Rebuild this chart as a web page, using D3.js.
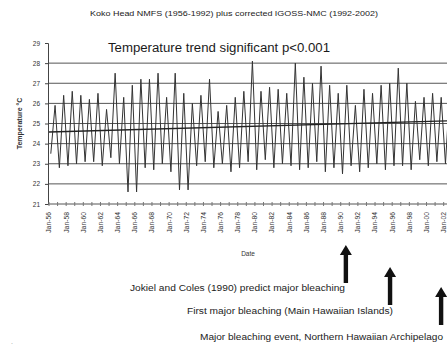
<!DOCTYPE html>
<html>
<head>
<meta charset="utf-8">
<script src="https://cdn.jsdelivr.net/npm/d3@7"></script>
<style>
  html, body { margin: 0; padding: 0; background: #fff; }
  svg { display: block; font-family: "Liberation Sans", Arial, sans-serif; }
</style>
</head>
<body>
<svg id="chart" width="447" height="345"></svg>
<script>
// Koko Head sea surface temperature, seasonal extremes per year (°C)
const years = [1956,1957,1958,1959,1960,1961,1962,1963,1964,1965,1966,1967,1968,1969,1970,1971,1972,1973,1974,1975,1976,1977,1978,1979,1980,1981,1982,1983,1984,1985,1986,1987,1988,1989,1990,1991,1992,1993,1994,1995,1996,1997,1998,1999,2000,2001,2002];
// late-winter minimum (around March)
const winterLow = [23.5,22.8,22.9,23.0,23.1,23.1,22.9,23.3,23.0,21.6,21.6,22.8,22.7,23.0,22.6,21.7,21.7,22.9,23.1,22.8,23.0,22.6,22.8,23.1,22.7,23.2,22.8,23.0,22.9,22.7,22.8,23.1,22.6,22.8,22.5,22.9,22.6,22.8,23.0,22.7,22.9,22.9,22.7,23.2,22.9,23.1,23.0];
// late-summer maximum (around September)
const summerHigh = [25.9,26.4,26.6,26.4,26.2,26.5,25.7,27.5,26.3,26.9,27.2,27.2,27.5,26.3,27.5,26.5,26.0,26.4,27.2,25.6,25.9,26.3,26.6,28.1,26.6,26.8,26.7,26.5,28.0,27.3,27.0,27.85,26.9,26.5,26.9,25.9,26.7,26.5,26.9,27.0,27.75,27.0,26.1,26.3,26.5,26.3,26.6];
const lowMonth = 2;   // March (0-based)
const highMonth = 8;  // September

// linear trend (°C) at the start and end of the record
const trendYears = [1956, 2003];
const trendValues = [24.58, 25.14];

const yTicks = [21,22,23,24,25,26,27,28,29];
const gridValues = [22,23,24,25,26,27,28];
const xLabelYears = d3.range(1956, 2003, 2);
const xTickYears = d3.range(1956, 2004, 1);

const titleText = "Koko Head NMFS (1956-1992) plus corrected IGOSS-NMC (1992-2002)";
const trendNote = "Temperature trend significant p<0.001";

// bleaching events marked below the time axis
const eventDates = [1990.6, 1995.75, 2001.7];
const eventTexts = [
  "Jokiel and Coles (1990) predict major bleaching",
  "First major bleaching (Main Hawaiian Islands)",
  "Major bleaching event, Northern Hawaiian Archipelago"
];

const svg = d3.select("#chart");
const plotLeft = 48, plotTop = 43, plotBottom = 204;
const pxPerYear = 8.58;
const x = d3.scaleLinear().domain([1956, 2003]).range([49, 49 + 47 * pxPerYear]);
const y = d3.scaleLinear().domain([21, 29]).range([plotBottom, plotTop]);

// title
svg.append("text").attr("x", 234).attr("y", 16).attr("text-anchor", "middle")
  .attr("font-size", 8).attr("textLength", 288).attr("lengthAdjust", "spacingAndGlyphs")
  .attr("fill", "#222").text(titleText);

// horizontal gridlines
svg.append("g").selectAll("line").data(gridValues).join("line")
  .attr("x1", plotLeft).attr("x2", 447).attr("y1", d => y(d)).attr("y2", d => y(d))
  .attr("stroke", "#555").attr("stroke-width", 1);

// temperature series
const series = [];
years.forEach((yr, i) => {
  series.push({ t: yr + (lowMonth + 0.5) / 12, v: winterLow[i] });
  series.push({ t: yr + (highMonth + 0.5) / 12, v: summerHigh[i] });
});
svg.append("path").datum(series)
  .attr("fill", "none").attr("stroke", "#333").attr("stroke-width", 1)
  .attr("stroke-linejoin", "miter")
  .attr("d", d3.line().x(d => x(d.t)).y(d => y(d.v)));

// trend line
svg.append("line")
  .attr("x1", x(trendYears[0])).attr("x2", x(trendYears[1]))
  .attr("y1", y(trendValues[0])).attr("y2", y(trendValues[1]))
  .attr("stroke", "#222").attr("stroke-width", 1.4);

// y axis
const yAxis = svg.append("g").attr("transform", `translate(${plotLeft},0)`)
  .call(d3.axisLeft(y).tickValues(yTicks).tickSize(3).tickPadding(5).tickFormat(d3.format("d")));
yAxis.select(".domain").attr("stroke", "#444");
yAxis.selectAll(".tick line").attr("stroke", "#444");
yAxis.selectAll("text").attr("font-size", 6.5).attr("fill", "#333")
  .attr("font-family", "Liberation Sans, Arial, sans-serif");

// x axis baseline with yearly ticks
svg.append("line").attr("x1", plotLeft).attr("x2", 447).attr("y1", plotBottom).attr("y2", plotBottom)
  .attr("stroke", "#555");
svg.append("g").selectAll("line").data(xTickYears).join("line")
  .attr("x1", d => x(d)).attr("x2", d => x(d)).attr("y1", plotBottom - 2).attr("y2", plotBottom + 2)
  .attr("stroke", "#777");
svg.append("g").selectAll("text").data(xLabelYears).join("text")
  .attr("transform", d => `translate(${x(d)},${plotBottom + 8}) rotate(-90)`)
  .attr("text-anchor", "end").attr("dy", "0.35em")
  .attr("font-size", 6.8).attr("fill", "#333")
  .text(d => "Jan-" + String(d % 100).padStart(2, "0"));

// axis titles
svg.append("text").attr("transform", `translate(22,${(plotTop + plotBottom) / 2}) rotate(-90)`)
  .attr("text-anchor", "middle").attr("font-size", 7).attr("font-weight", "bold").attr("fill", "#333")
  .text("Temperature °C");
svg.append("text").attr("x", 248).attr("y", 256).attr("text-anchor", "middle")
  .attr("font-size", 6.5).attr("fill", "#333").text("Date");

// trend annotation
svg.append("text").attr("x", 108).attr("y", 52)
  .attr("font-size", 12.5).attr("textLength", 222).attr("lengthAdjust", "spacingAndGlyphs")
  .attr("fill", "#1a1a1a").text(trendNote);

// event arrows and captions
const arrowTips = [245, 267, 287];
const arrowLen = 38;
const arrowGroup = svg.append("g");
eventDates.forEach((d, i) => {
  const ax = x(d), tip = arrowTips[i];
  arrowGroup.append("path")
    .attr("d", `M${ax},${tip} L${ax + 6},${tip + 10} L${ax + 2.2},${tip + 10} L${ax + 2.2},${tip + arrowLen} L${ax - 2.2},${tip + arrowLen} L${ax - 2.2},${tip + 10} L${ax - 6},${tip + 10} Z`)
    .attr("fill", "#111");
});
const captionPos = [[130, 291, 215], [187, 314, 206], [200, 340, 243]];
eventTexts.forEach((t, i) => {
  svg.append("text").attr("x", captionPos[i][0]).attr("y", captionPos[i][1])
    .attr("font-size", 8.5).attr("textLength", captionPos[i][2]).attr("lengthAdjust", "spacingAndGlyphs")
    .attr("fill", "#222").text(t);
});

// stray mark in the lower-left corner
svg.append("text").attr("x", 11).attr("y", 344).attr("font-size", 7).attr("fill", "#999").text(".");
</script>
</body>
</html>
